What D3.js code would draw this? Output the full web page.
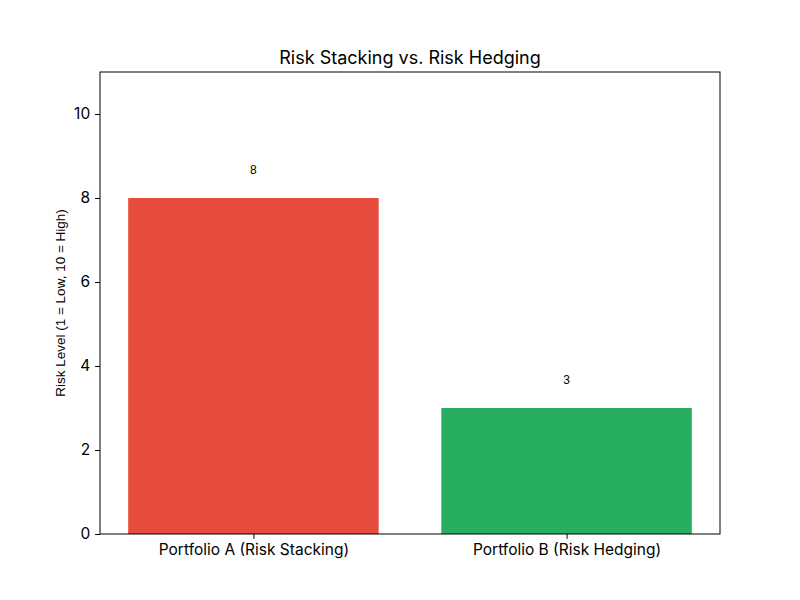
<!DOCTYPE html>
<html><head><meta charset="utf-8">
<script src="https://cdn.jsdelivr.net/npm/d3@7"></script>
<style>body{margin:0;background:#fff}svg{display:block}</style>
</head><body>
<script>
const categories = ["Portfolio A (Risk Stacking)", "Portfolio B (Risk Hedging)"];
const values = [8, 3];
const colors = ["#e74c3c", "#27ae60"];
const yTicks = [0, 2, 4, 6, 8, 10];
const title = "Risk Stacking vs. Risk Hedging";
const yLabel = "Risk Level (1 = Low, 10 = High)";

const W = 800, H = 600;
const m = {left: 100, right: 720, top: 72, bottom: 534};
const mainFont = "Inter, Roboto, 'Open Sans', sans-serif";
const svg = d3.select("body").append("svg").attr("width", W).attr("height", H);

const x = d3.scaleLinear().domain([-0.49, 1.49]).range([m.left, m.right]);
const y = d3.scaleLinear().domain([0, 11]).range([m.bottom, m.top]);
const bw = x(0.8) - x(0);

svg.selectAll("rect.bar").data(values).enter().append("rect")
  .attr("x", (d, i) => x(i - 0.4))
  .attr("y", d => y(d))
  .attr("width", bw)
  .attr("height", d => y(0) - y(d))
  .attr("fill", (d, i) => colors[i]);

svg.selectAll("text.val").data(values).enter().append("text")
  .attr("x", (d, i) => x(i))
  .attr("y", d => y(d + 0.5) - 3)
  .attr("text-anchor", "middle")
  .style("font-family", "'Liberation Sans', Arial, sans-serif")
  .style("font-size", "12px")
  .text(d => d);

// frame
svg.append("rect").attr("x", m.left).attr("y", m.top)
  .attr("width", m.right - m.left).attr("height", m.bottom - m.top)
  .attr("fill", "none").attr("stroke", "#000").attr("stroke-width", 1);

const yAxis = svg.append("g").attr("transform", `translate(${m.left},0)`)
  .call(d3.axisLeft(y).tickValues(yTicks).tickSize(4.9).tickPadding(4.9));
const xAxis = svg.append("g").attr("transform", `translate(0,${m.bottom})`)
  .call(d3.axisBottom(x).tickValues([0, 1]).tickFormat(i => categories[i]).tickSize(4.9).tickPadding(4.9));
[yAxis, xAxis].forEach(g => {
  g.select(".domain").remove();
  g.selectAll("text").style("font-family", mainFont).style("font-size", "15.5px").attr("fill", "#000");
  g.selectAll("line").attr("stroke", "#000");
});

svg.append("text").attr("x", (m.left + m.right) / 2).attr("y", m.top - 8)
  .attr("text-anchor", "middle")
  .style("font-family", mainFont).style("font-size", "18px")
  .text(title);

svg.append("text")
  .attr("transform", `translate(65,${(m.top + m.bottom) / 2}) rotate(-90)`)
  .attr("text-anchor", "middle")
  .style("font-family", "'Liberation Sans', Arial, sans-serif")
  .style("font-size", "13.5px")
  .text(yLabel);
</script>
</body></html>
